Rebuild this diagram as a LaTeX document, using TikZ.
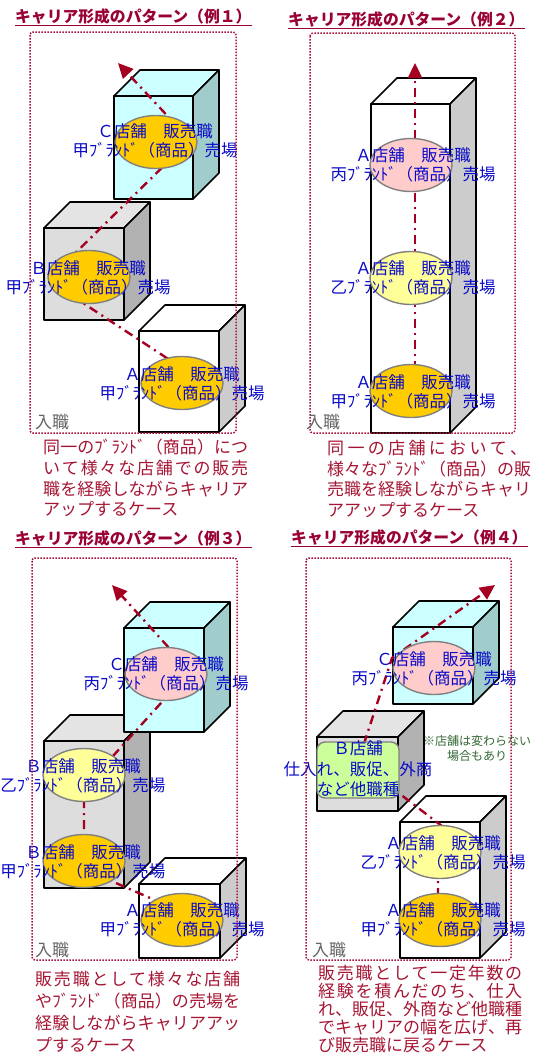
\documentclass[tikz,border=0pt]{standalone}
\usepackage{fontspec}
\setmainfont{Noto Sans CJK JP}
\usepackage{tikz}
\usetikzlibrary{shapes.geometric,arrows.meta}

\definecolor{titlered}{RGB}{153,0,51}
\definecolor{descred}{RGB}{165,20,50}
\definecolor{routered}{RGB}{165,0,33}
\definecolor{framered}{RGB}{170,20,60}
\definecolor{shopblue}{RGB}{10,10,200}
\definecolor{notegreen}{RGB}{51,102,51}
\definecolor{entrygray}{RGB}{100,100,100}
\definecolor{ovalgray}{RGB}{128,128,128}
\definecolor{shopgold}{RGB}{255,204,0}
\definecolor{shoppink}{RGB}{255,204,204}
\definecolor{shopyellow}{RGB}{255,255,153}
\definecolor{shopgreen}{RGB}{204,255,153}
\definecolor{cyanface}{RGB}{204,255,255}
\definecolor{cyanside}{RGB}{160,204,204}
\definecolor{grayface}{RGB}{221,221,221}
\definecolor{graytop}{RGB}{228,228,228}
\definecolor{grayside}{RGB}{178,178,178}
\definecolor{whiteside}{RGB}{204,204,204}

\tikzset{
  cubeline/.style={draw=black, line width=1.6pt, line join=round},
  route/.style={draw=routered, line width=2.4pt, dash pattern=on 9pt off 5pt on 2pt off 5pt, -{Triangle[length=15pt,width=14pt]}},
  oval/.style={ellipse, draw=ovalgray, line width=1.4pt, fill=#1, minimum width=82pt, minimum height=53pt, inner sep=0pt},
  shoptext/.style={text=shopblue, align=center, font=\fontsize{16.5}{19.5}\selectfont, inner sep=0pt},
  dotbox/.style={draw=framered, line width=1.5pt, dash pattern=on 1.5pt off 1.5pt, rounded corners=3pt},
  heading/.style={text=titlered, font=\fontsize{15.8}{18}\selectfont\bfseries, inner sep=0pt, anchor=base west},
  note/.style={text=descred, align=left, font=\fontsize{17}{20.7}\selectfont, inner sep=0pt, anchor=north west},
  entry/.style={text=entrygray, font=\fontsize{17}{20}\selectfont, inner sep=0pt, anchor=west},
}

% front face from (#1,#2) to (#3,#4), colours: front, side, top
\newcommand{\boxcube}[7]{%
  \draw[cubeline, fill=#5] (#1,#2) rectangle (#3,#4);
  \draw[cubeline, fill=#7] (#1,#2) -- (#1+26,#2-26) -- (#3+26,#2-26) -- (#3,#2) -- cycle;
  \draw[cubeline, fill=#6] (#3,#2) -- (#3+26,#2-26) -- (#3+26,#4-26) -- (#3,#4) -- cycle;
}
% stretchable glue between characters, switched on in \caseline only
\XeTeXinterchartoks 0 0 = {\hskip 0pt plus 4pt}
\XeTeXinterchartoks 0 1 = {\hskip 0pt plus 4pt}
\XeTeXinterchartoks 0 2 = {\hskip 0pt plus 4pt}
\XeTeXinterchartoks 0 3 = {\hskip 0pt plus 4pt}
\XeTeXinterchartoks 1 0 = {\hskip 0pt plus 4pt}
\XeTeXinterchartoks 1 1 = {\hskip 0pt plus 4pt}
\XeTeXinterchartoks 1 2 = {\hskip 0pt plus 4pt}
\XeTeXinterchartoks 1 3 = {\hskip 0pt plus 4pt}
\XeTeXinterchartoks 2 0 = {\hskip 0pt plus 4pt}
\XeTeXinterchartoks 2 1 = {\hskip 0pt plus 4pt}
\XeTeXinterchartoks 2 2 = {\hskip 0pt plus 4pt}
\XeTeXinterchartoks 2 3 = {\hskip 0pt plus 4pt}
\XeTeXinterchartoks 3 0 = {\hskip 0pt plus 4pt}
\XeTeXinterchartoks 3 1 = {\hskip 0pt plus 4pt}
\XeTeXinterchartoks 3 2 = {\hskip 0pt plus 4pt}
\XeTeXinterchartoks 3 3 = {\hskip 0pt plus 4pt}
% one justified line of a case text
\newcommand{\caseline}[2]{\makebox[#1][s]{\XeTeXinterchartokenstate=1 #2}}

\begin{document}
\begin{tikzpicture}[x=1pt, y=-1pt]
\useasboundingbox (0,0) rectangle (533,1053);

% example 1
\node[heading] (t1) at (15,22) {キャリア形成のパターン（例１）};
\draw[titlered, line width=1.3pt] ([yshift=-1.5pt]t1.south west) -- ([yshift=-1.5pt]t1.south east);
\boxcube{114}{96}{193}{199}{cyanface}{cyanside}{cyanface}
\boxcube{44}{228}{124}{320}{grayface}{grayside}{graytop}
\boxcube{139}{331}{219}{432}{white}{whiteside}{white}
\coordinate (r1a) at (185,370);
\coordinate (r1b) at (48,280);
\coordinate (r1c) at (190,140);
\coordinate (r1e) at (118,63);
\draw[route] (r1a) -- (r1b) -- (r1c) -- (r1e);
\node[oval=shopgold] (e1c) at (156,142) {};
\node[oval=shopgold] (e1b) at (89,277) {};
\node[oval=shopgold] (e1a) at (182,383) {};
\node[shoptext] (s1c) at (155,141) {Ｃ店舗　販売職\\甲ﾌﾞﾗﾝﾄﾞ（商品）売場};
\node[shoptext] (s1b) at (88,278) {Ｂ店舗　販売職\\甲ﾌﾞﾗﾝﾄﾞ（商品）売場};
\node[shoptext] (s1a) at (182,384) {Ａ店舗　販売職\\甲ﾌﾞﾗﾝﾄﾞ（商品）売場};
\draw[dotbox] (30,32) rectangle (236,433);
\node[entry] (j1) at (35,422) {入職};
\node[note] (d1) at (43,439) {\caseline{205pt}{同一のﾌﾞﾗﾝﾄﾞ（商品）につ}\\\caseline{205pt}{いて様々な店舗での販売}\\\caseline{205pt}{職を経験しながらキャリア}\\アップするケース};

% example 2
\node[heading] (t2) at (288,25) {キャリア形成のパターン（例２）};
\draw[titlered, line width=1.3pt] ([yshift=-1.5pt]t2.south west) -- ([yshift=-1.5pt]t2.south east);
\boxcube{371}{104}{450}{433}{white}{whiteside}{white}
\coordinate (r2a) at (415,391);
\coordinate (r2e) at (415,63);
\draw[route] (r2a) -- (r2e);
\node[oval=shoppink] (e2c) at (411,165) {};
\node[oval=shopyellow] (e2b) at (411,278) {};
\node[oval=shopgold] (e2a) at (411,391) {};
\node[shoptext] (s2c) at (413,165) {Ａ店舗　販売職\\丙ﾌﾞﾗﾝﾄﾞ（商品）売場};
\node[shoptext] (s2b) at (413,278) {Ａ店舗　販売職\\乙ﾌﾞﾗﾝﾄﾞ（商品）売場};
\node[shoptext] (s2a) at (413,392) {Ａ店舗　販売職\\甲ﾌﾞﾗﾝﾄﾞ（商品）売場};
\draw[dotbox] (310,33) rectangle (515,433);
\node[entry] (j2) at (306,422) {入職};
\node[note] (d2) at (327,440) {\caseline{200pt}{同一の店舗において、}\\\caseline{200pt}{様々なﾌﾞﾗﾝﾄﾞ（商品）の販}\\\caseline{200pt}{売職を経験しながらキャリ}\\アアップするケース};

% example 3
\node[heading] (t3) at (15,544) {キャリア形成のパターン（例３）};
\draw[titlered, line width=1.3pt] ([yshift=-1.5pt]t3.south west) -- ([yshift=-1.5pt]t3.south east);
\boxcube{44}{741}{124}{888}{grayface}{grayside}{graytop}
\boxcube{124}{628}{204}{732}{cyanface}{cyanside}{cyanface}
\boxcube{139}{884}{220}{958}{white}{whiteside}{white}
\coordinate (r3a) at (182,912);
\coordinate (r3b) at (84,869);
\coordinate (r3c) at (84,788);
\coordinate (r3d) at (190,671);
\coordinate (r3e) at (112,585);
\draw[route] (r3a) -- (r3b) -- (r3c) -- (r3d) -- (r3e);
\node[oval=shoppink] (e3d) at (166,674) {};
\node[oval=shopyellow] (e3c) at (84,775) {};
\node[oval=shopgold] (e3b) at (84,861) {};
\node[oval=shopgold] (e3a) at (182,920) {};
\node[shoptext] (s3d) at (166,674) {Ｃ店舗　販売職\\丙ﾌﾞﾗﾝﾄﾞ（商品）売場};
\node[shoptext] (s3c) at (83,776) {Ｂ店舗　販売職\\乙ﾌﾞﾗﾝﾄﾞ（商品）売場};
\node[shoptext] (s3b) at (83,862) {Ｂ店舗　販売職\\甲ﾌﾞﾗﾝﾄﾞ（商品）売場};
\node[shoptext] (s3a) at (182,920) {Ａ店舗　販売職\\甲ﾌﾞﾗﾝﾄﾞ（商品）売場};
\draw[dotbox] (32,558) rectangle (237,960);
\node[entry] (j3) at (35,950) {入職};
\node[note, font=\fontsize{17}{22}\selectfont] (d3) at (35,971) {\caseline{205pt}{販売職として様々な店舗}\\\caseline{205pt}{やﾌﾞﾗﾝﾄﾞ（商品）の売場を}\\\caseline{205pt}{経験しながらキャリアアッ}\\プするケース};

% example 4
\node[heading] (t4) at (291,543) {キャリア形成のパターン（例４）};
\draw[titlered, line width=1.3pt] ([yshift=-1.5pt]t4.south west) -- ([yshift=-1.5pt]t4.south east);
\boxcube{393}{627}{473}{704}{cyanface}{cyanside}{cyanface}
\boxcube{317}{737}{398}{811}{grayface}{grayside}{graytop}
\boxcube{400}{822}{480}{958}{white}{whiteside}{white}
\coordinate (r4a) at (438,918);
\coordinate (r4b) at (438,850);
\coordinate (r4c) at (455,836);
\coordinate (r4d) at (358,762);
\coordinate (r4f) at (392,658);
\coordinate (r4e) at (495,585);
\draw[route] (r4a) -- (r4b) -- (r4c) -- (r4d) -- (r4f) -- (r4e);
\draw[draw=ovalgray, line width=1.4pt, fill=shopgreen, rounded corners=8pt] (317,742) rectangle (399,798);
\node[oval=shoppink] (e4f) at (434,668) {};
\node[oval=shopyellow] (e4b) at (440,852) {};
\node[oval=shopgold] (e4a) at (440,920) {};
\node[shoptext] (s4f) at (434,669) {Ｃ店舗　販売職\\丙ﾌﾞﾗﾝﾄﾞ（商品）売場};
\node[shoptext, font=\fontsize{16.5}{20.5}\selectfont] (s4d) at (358,769) {Ｂ店舗\\仕入れ、販促、外商\\など他職種};
\node[shoptext] (s4b) at (443,853) {Ａ店舗　販売職\\乙ﾌﾞﾗﾝﾄﾞ（商品）売場};
\node[shoptext] (s4a) at (443,920) {Ａ店舗　販売職\\甲ﾌﾞﾗﾝﾄﾞ（商品）売場};
\node[text=notegreen, align=center, font=\fontsize{12}{15}\selectfont, inner sep=0pt] (n4) at (477,748) {※店舗は変わらない\\場合もあり};
\draw[dotbox] (306,558) rectangle (511,960);
\node[entry] (j4) at (312,950) {入職};
\node[note, font=\fontsize{17}{18}\selectfont] (d4) at (318,965) {\caseline{204pt}{販売職として一定年数の}\\\caseline{204pt}{経験を積んだのち、仕入}\\\caseline{204pt}{れ、販促、外商など他職種}\\\caseline{204pt}{でキャリアの幅を広げ、再}\\び販売職に戻るケース};
\end{tikzpicture}
\end{document}
